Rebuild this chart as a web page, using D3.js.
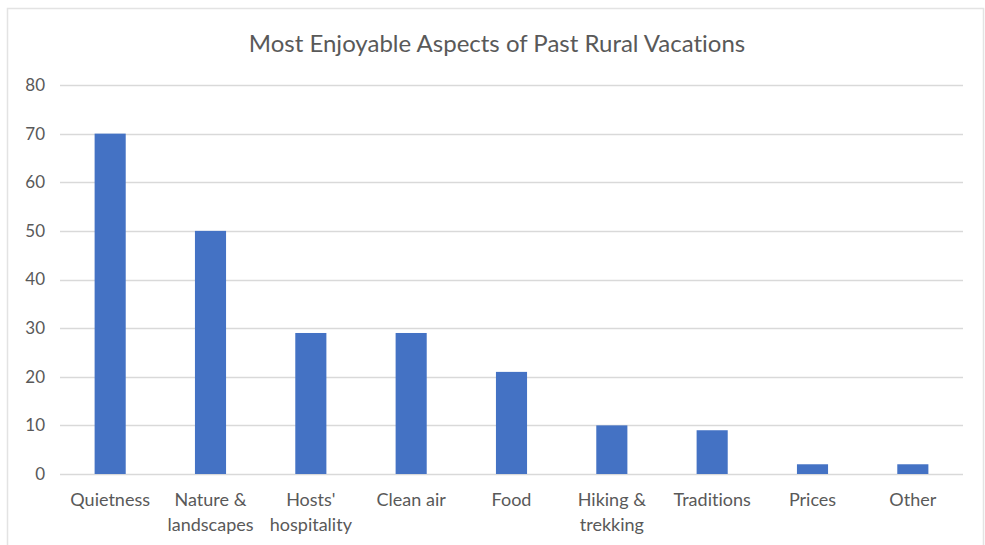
<!DOCTYPE html>
<html>
<head>
<meta charset="utf-8">
<script src="https://cdn.jsdelivr.net/npm/d3@7"></script>
<style>
  html, body { margin: 0; padding: 0; background: #ffffff; }
  svg { display: block; }
  text { font-family: Lato, "Open Sans", sans-serif; fill: #595959; font-variant-ligatures: none; }
</style>
</head>
<body>
<svg id="chart" width="985" height="545"></svg>
<script>
const title = "Most Enjoyable Aspects of Past Rural Vacations";
const categories = [
  ["Quietness"],
  ["Nature &", "landscapes"],
  ["Hosts'", "hospitality"],
  ["Clean air"],
  ["Food"],
  ["Hiking &", "trekking"],
  ["Traditions"],
  ["Prices"],
  ["Other"]
];
const values = [70, 50, 29, 29, 21, 10, 9, 2, 2];
const yTicks = [0, 10, 20, 30, 40, 50, 60, 70, 80];

const W = 985, H = 545;
const margin = { left: 60, right: 22, top: 85, bottom: 71 };

const svg = d3.select("#chart");

// chart frame
svg.append("rect")
  .attr("x", 7.5).attr("y", 8.5)
  .attr("width", W - 9).attr("height", H + 10)
  .attr("fill", "#ffffff")
  .attr("stroke", "#e3e3e3")
  .attr("stroke-width", 1.5);

const labels = categories.map(c => c.join(" "));

const x = d3.scaleBand()
  .domain(labels)
  .range([margin.left, W - margin.right])
  .paddingInner(0.69)
  .paddingOuter(0.345);

const y = d3.scaleLinear()
  .domain([0, 80])
  .range([H - margin.bottom, margin.top]);

// gridlines
svg.append("g")
  .selectAll("line")
  .data(yTicks)
  .join("line")
  .attr("x1", margin.left).attr("x2", W - margin.right)
  .attr("y1", d => Math.round(y(d)) + 0.5)
  .attr("y2", d => Math.round(y(d)) + 0.5)
  .attr("stroke", "#d9d9d9")
  .attr("stroke-width", 1.3);

// y axis labels
const yAxis = d3.axisLeft(y).tickValues(yTicks).tickSize(0).tickPadding(0);
const gy = svg.append("g")
  .attr("transform", `translate(${margin.left - 15},0)`)
  .call(yAxis);
gy.select(".domain").remove();
gy.selectAll("text")
  .attr("font-size", 17)
  .attr("fill", "#595959")
  .style("font-family", "Lato, sans-serif");

// bars
svg.append("g")
  .selectAll("rect")
  .data(values)
  .join("rect")
  .attr("x", (d, i) => x(labels[i]))
  .attr("width", x.bandwidth())
  .attr("y", d => y(d))
  .attr("height", d => y(0) - y(d))
  .attr("fill", "#4472c4");

// category labels
const xAxis = d3.axisBottom(x).tickSize(0).tickFormat(() => "");
const gx = svg.append("g")
  .attr("transform", `translate(0,${y(0)})`)
  .call(xAxis);
gx.select(".domain").remove();
gx.selectAll(".tick").each(function(d, i) {
  const t = d3.select(this).append("text")
    .attr("text-anchor", "middle")
    .attr("font-size", 18)
    .attr("y", 32);
  categories[i].forEach((line, k) => {
    t.append("tspan").attr("x", 0).attr("dy", k === 0 ? 0 : 25).text(line);
  });
});

// title
svg.append("text")
  .attr("x", 497)
  .attr("y", 52)
  .attr("text-anchor", "middle")
  .attr("font-size", 24)
  .text(title);
</script>
</body>
</html>
